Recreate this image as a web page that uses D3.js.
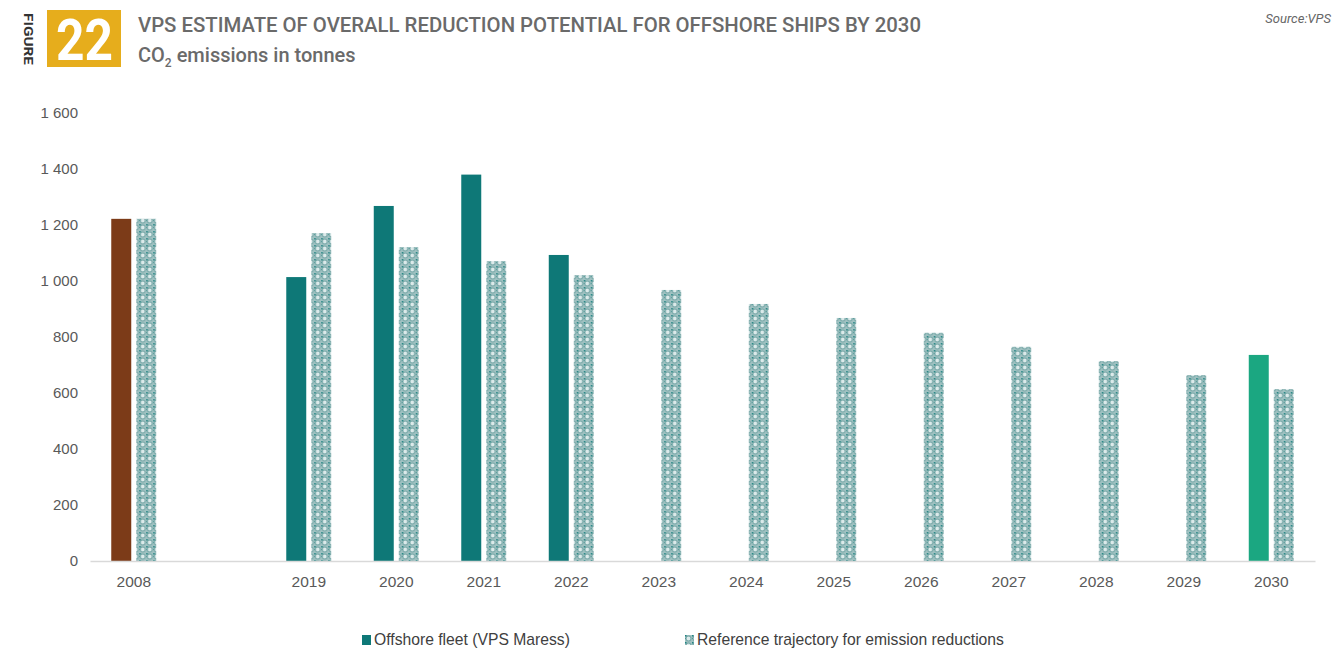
<!DOCTYPE html>
<html>
<head>
<meta charset="utf-8">
<script src="https://cdn.jsdelivr.net/npm/d3@7/dist/d3.min.js"></script>
<style>
  html, body { margin: 0; padding: 0; background: #fff; }
  svg { display: block; }
</style>
</head>
<body>
<div id="chart"></div>
<script>
// Category slots along the x axis ("" is the empty slot between 2008 and 2019)
const years = ["2008", "", "2019", "2020", "2021", "2022", "2023", "2024", "2025", "2026", "2027", "2028", "2029", "2030"];
// Offshore fleet (VPS Maress), tonnes CO2
const fleetValues = [1222, null, 1014, 1268, 1380, 1093, null, null, null, null, null, null, null, 736];
// Reference trajectory for emission reductions
const referenceValues = [1222, null, 1171, 1121, 1071, 1021, 968, 918, 868, 815, 765, 714, 664, 614];
const yTicks = [0, 200, 400, 600, 800, 1000, 1200, 1400, 1600];
const legendLabels = ["Offshore fleet (VPS Maress)", "Reference trajectory for emission reductions"];

const COLOURS = {
    TEAL: "#0e7877",
    BROWN: "#7c3b18",
    GREEN: "#1ba781",
    AXIS: "#d9d9d9",
    TICK_TEXT: "#595959",
    TITLE: "#6a6a6a",
    BADGE: "#e6ad1c"
};

const W = 1336, H = 648;
const svg = d3.select("#chart").append("svg")
    .attr("width", W)
    .attr("height", H);

// pattern used by the reference trajectory bars
const defs = svg.append("defs");
const pat = defs.append("pattern")
    .attr("id", "refPattern")
    .attr("patternUnits", "userSpaceOnUse")
    .attr("width", 7)
    .attr("height", 7);
pat.append("rect").attr("width", 7).attr("height", 7).attr("fill", "#9fc1c1");
pat.append("circle").attr("cx", 3.5).attr("cy", 3.5).attr("r", 2.5)
    .attr("fill", "#dceaea").attr("stroke", "#78a8a8").attr("stroke-width", 1.1);
pat.append("rect").attr("x", 0).attr("y", 0).attr("width", 1.5).attr("height", 1.5).attr("fill", "#1f8381");
pat.append("rect").attr("x", 0).attr("y", 3).attr("width", 1).attr("height", 1).attr("fill", "#4f9796");

// --- header ---
svg.append("text")
    .attr("transform", "translate(24,13) rotate(90)")
    .attr("font-family", "Roboto, 'DejaVu Sans', sans-serif")
    .attr("font-weight", 700)
    .attr("font-size", 13)
    .attr("fill", "#333")
    .attr("textLength", 52)
    .attr("lengthAdjust", "spacingAndGlyphs")
    .text("FIGURE");

svg.append("rect")
    .attr("x", 47).attr("y", 10)
    .attr("width", 74).attr("height", 57)
    .attr("fill", COLOURS.BADGE);

svg.append("text")
    .attr("x", 56).attr("y", 60)
    .attr("font-family", "Roboto, sans-serif")
    .attr("font-weight", 700)
    .attr("font-size", 58)
    .attr("fill", "#fff")
    .attr("textLength", 57)
    .attr("lengthAdjust", "spacingAndGlyphs")
    .text("22");

svg.append("text")
    .attr("x", 138).attr("y", 32)
    .attr("font-family", "Roboto, sans-serif")
    .attr("font-weight", 500)
    .attr("font-size", 21)
    .attr("fill", COLOURS.TITLE)
    .attr("textLength", 783)
    .attr("lengthAdjust", "spacingAndGlyphs")
    .text("VPS ESTIMATE OF OVERALL REDUCTION POTENTIAL FOR OFFSHORE SHIPS BY 2030");

const sub = svg.append("text")
    .attr("x", 138).attr("y", 62)
    .attr("font-family", "Roboto, sans-serif")
    .attr("font-weight", 500)
    .attr("font-size", 20)
    .attr("fill", COLOURS.TITLE);
sub.append("tspan").text("CO");
sub.append("tspan").attr("font-size", 12).attr("dy", 5).text("2");
sub.append("tspan").attr("dy", -5).text(" emissions in tonnes");

svg.append("text")
    .attr("x", 1331).attr("y", 23)
    .attr("text-anchor", "end")
    .attr("font-family", "Roboto, sans-serif")
    .attr("font-style", "italic")
    .attr("font-size", 13)
    .attr("fill", "#666")
    .text("Source:VPS");

// --- chart ---
const x0 = d3.scaleBand()
    .domain(d3.range(years.length))
    .range([90, 1315])
    .paddingInner(0.486)
    .paddingOuter(0.243);

const x1 = d3.scaleBand()
    .domain(["fleet", "reference"])
    .range([0, x0.bandwidth()])
    .paddingInner(0.2);

const y = d3.scaleLinear()
    .domain([0, 1600])
    .range([561, 113]);

const locale = d3.formatLocale({decimal: ".", thousands: " ", grouping: [3], currency: ["", ""]});
const fmt = locale.format(",");

// y axis labels (no axis line)
const yAxis = svg.append("g")
    .attr("transform", "translate(78,0)")
    .call(d3.axisLeft(y).tickValues(yTicks).tickFormat(fmt).tickSize(0).tickPadding(0));
yAxis.select(".domain").remove();
yAxis.selectAll("text")
    .attr("font-family", "'Liberation Sans', Arial, sans-serif")
    .attr("font-size", 15)
    .attr("fill", COLOURS.TICK_TEXT);

function fleetColour(i) {
    if (years[i] === "2008") return COLOURS.BROWN;
    if (years[i] === "2030") return COLOURS.GREEN;
    return COLOURS.TEAL;
}

const rows = years.map((yr, i) => ({i, yr, fleet: fleetValues[i], reference: referenceValues[i]}));

const groups = svg.selectAll(".grp")
    .data(rows)
    .enter()
    .append("g")
    .attr("class", "grp")
    .attr("transform", d => `translate(${x0(d.i)},0)`);

groups.filter(d => d.fleet != null)
    .append("rect")
    .attr("x", x1("fleet"))
    .attr("width", x1.bandwidth())
    .attr("y", d => y(d.fleet))
    .attr("height", d => y(0) - y(d.fleet))
    .attr("fill", d => fleetColour(d.i));

groups.filter(d => d.reference != null)
    .append("rect")
    .attr("x", x1("reference"))
    .attr("width", x1.bandwidth())
    .attr("y", d => y(d.reference))
    .attr("height", d => y(0) - y(d.reference))
    .attr("fill", "url(#refPattern)");

// x axis
const xAxis = svg.append("g")
    .attr("transform", `translate(0,${y(0)})`)
    .call(d3.axisBottom(x0).tickSize(0).tickPadding(15).tickFormat(i => years[i]));
xAxis.select(".domain")
    .attr("stroke", COLOURS.AXIS)
    .attr("stroke-width", 1.5);
xAxis.selectAll("text")
    .attr("font-family", "'Liberation Sans', Arial, sans-serif")
    .attr("font-size", 15.5)
    .attr("fill", COLOURS.TICK_TEXT);

// legend
const legend = svg.append("g").attr("class", "legend");
const legendX = [362, 685];
legendLabels.forEach((label, k) => {
    const g = legend.append("g").attr("transform", `translate(${legendX[k]},635)`);
    g.append("rect")
        .attr("width", 9).attr("height", 10)
        .attr("fill", k === 0 ? COLOURS.TEAL : "url(#refPattern)");
    g.append("text")
        .attr("x", 12).attr("y", 10)
        .attr("font-family", "'Liberation Sans', Arial, sans-serif")
        .attr("font-size", 15.7)
        .attr("fill", "#404040")
        .text(label);
});
</script>
</body>
</html>
